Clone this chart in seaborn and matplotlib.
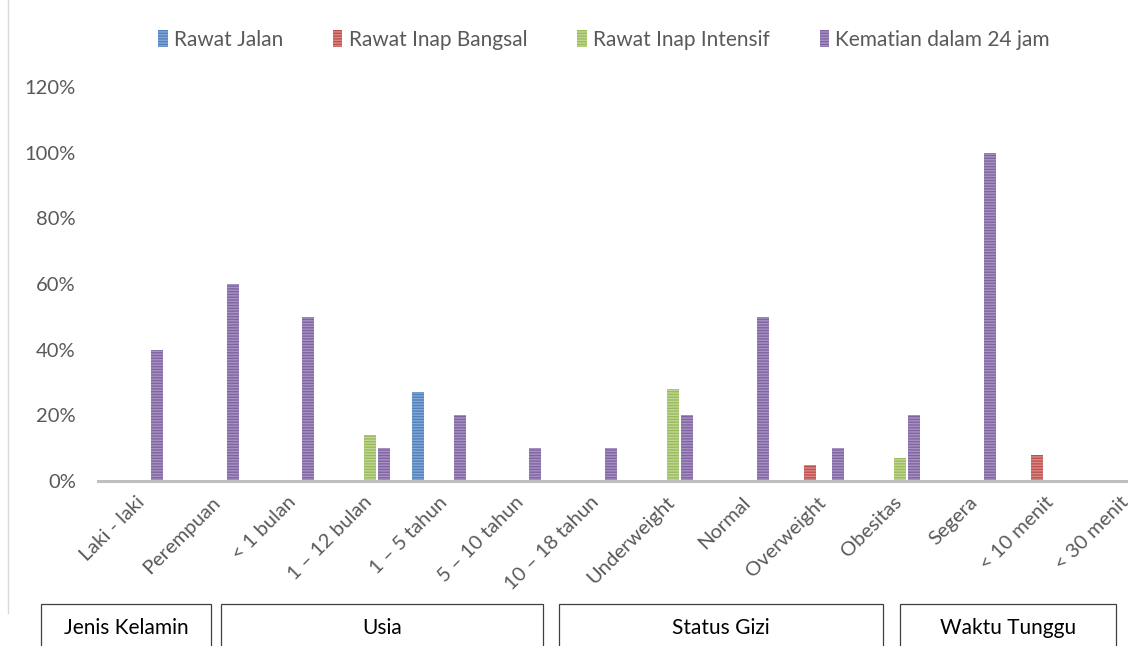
import numpy as np
import pandas as pd
import matplotlib
matplotlib.use("Agg")
import matplotlib.pyplot as plt
import seaborn as sns
from matplotlib.patches import Patch, Rectangle
from matplotlib.lines import Line2D

# ---------------- data ----------------
categories = ["Laki - laki", "Perempuan", "< 1 bulan", "1 – 12 bulan", "1 – 5 tahun",
              "5 – 10 tahun", "10 – 18 tahun", "Underweight", "Normal", "Overweight",
              "Obesitas", "Segera", "< 10 menit", "< 30 menit"]
series = ["Rawat Jalan", "Rawat Inap Bangsal", "Rawat Inap Intensif", "Kematian dalam 24 jam"]
rawat_jalan = [0, 0, 0, 0, 0.27, 0, 0, 0, 0, 0, 0, 0, 0, 0]
rawat_inap_bangsal = [0, 0, 0, 0, 0, 0, 0, 0, 0, 0.05, 0, 0, 0.08, 0]
rawat_inap_intensif = [0, 0, 0, 0.14, 0, 0, 0, 0.28, 0, 0, 0.07, 0, 0, 0]
kematian_24_jam = [0.40, 0.60, 0.50, 0.10, 0.20, 0.10, 0.10, 0.20, 0.50, 0.10, 0.20, 1.00, 0, 0]
groups = ["Jenis Kelamin", "Usia", "Status Gizi", "Waktu Tunggu"]
y_ticks = [0, 0.2, 0.4, 0.6, 0.8, 1.0, 1.2]

# ---------------- styling ----------------
colors = ["#4F81BD", "#C0504D", "#9BBB59", "#8064A2"]
stripes = ["#86A8D4", "#D88A88", "#C0D696", "#A793C2"]
text_col = "#595959"
FONT = "Lato"
FS = 14.5
FS_BIG = 15

sns.set_theme(style="white")
plt.rcParams["font.family"] = [FONT, "DejaVu Sans"]
plt.rcParams["hatch.linewidth"] = 1.0

W, H = 1128, 646
fig = plt.figure(figsize=(W / 100, H / 100), dpi=100)
ax = fig.add_axes([98 / W, (H - 481) / H, 1060 / W, 394 / H])

df = pd.DataFrame({
    "cat": np.tile(categories, len(series)),
    "series": np.repeat(series, len(categories)),
    "value": np.concatenate([rawat_jalan, rawat_inap_bangsal, rawat_inap_intensif, kematian_24_jam]),
})

sns.barplot(data=df, x="cat", y="value", hue="series", order=categories, hue_order=series,
            palette=colors, width=0.74, gap=0.14, legend=False, ax=ax)

# striped fill
for cont, c, s in zip(ax.containers, colors, stripes):
    for p in cont.patches:
        p.set_facecolor(c)
        p.set_edgecolor(s)
        p.set_linewidth(0)
        p.set_hatch("------")

ax.set_xlim(-0.5, len(categories) - 0.5)
ax.set_ylim(0, 1.2)
ax.set_yticks(y_ticks)
ax.set_yticklabels([f"{int(round(v * 100))}%" for v in y_ticks], color=text_col, fontsize=FS)
ax.set_xticks(range(len(categories)))
ax.set_xticklabels(categories, rotation=45, ha="right", rotation_mode="anchor",
                   color=text_col, fontsize=FS)
ax.tick_params(axis="both", length=0)
ax.tick_params(axis="y", pad=16)
ax.tick_params(axis="x", pad=9)
ax.set_xlabel("")
ax.set_ylabel("")
for side in ["top", "right", "left"]:
    ax.spines[side].set_visible(False)
ax.spines["bottom"].set_color("#BFBFBF")
ax.spines["bottom"].set_linewidth(2.2)
ax.grid(False)

# legend
handles = [Patch(facecolor=c, edgecolor=s, hatch="------", linewidth=0) for c, s in zip(colors, stripes)]
fig.legend(handles, series, loc="center", bbox_to_anchor=(604 / W, 1 - 40 / H), ncol=4,
           frameon=False, handlelength=0.45, handleheight=0.85, handletextpad=0.3,
           columnspacing=2.4, prop={"family": FONT, "size": FS_BIG}, labelcolor=text_col)

# chart border on the left
fig.add_artist(Line2D([8 / W, 8 / W], [1, 1 - 613 / H], color="#D9D9D9", lw=1))

# group boxes
boxes = [(41, 211), (221, 543), (559, 883), (900, 1116)]
for name, (x0, x1) in zip(groups, boxes):
    fig.add_artist(Rectangle((x0 / W, (H - 665) / H), (x1 - x0) / W, 61 / H,
                             transform=fig.transFigure, facecolor="none",
                             edgecolor="#404040", lw=0.9))
    fig.text((x0 + x1) / 2 / W, 1 - 628 / H, name, ha="center", va="center",
             fontsize=FS_BIG, color="#000000", family=FONT)

fig.savefig("out.png", dpi=100)
